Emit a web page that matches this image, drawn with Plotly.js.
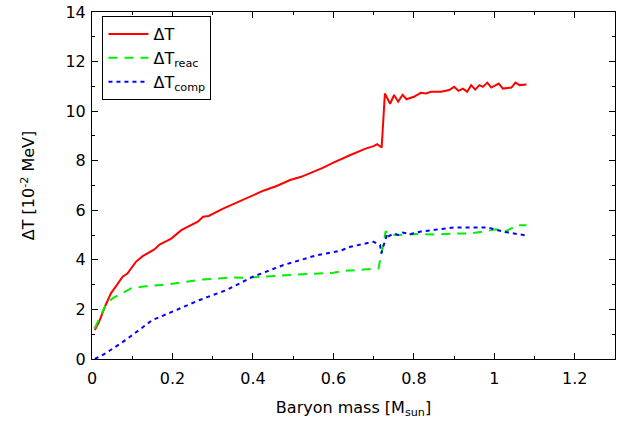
<!DOCTYPE html>
<html>
<head>
<meta charset="utf-8">
<script src="https://cdn.plot.ly/plotly-3.0.1.min.js"></script>
<style>html,body{margin:0;padding:0;background:#fff;}#chart{width:624px;height:422px;}</style>
</head>
<body>
<div id="chart"></div>
<script>
// ΔT (total)
const massT = [0.007,0.0175,0.034,0.047,0.059,0.076,0.088,0.109,0.126,0.155,0.168,0.197,0.222,0.2425,0.263,0.276,0.29,0.326,0.351,0.38,0.40,0.426,0.459,0.4925,0.52,0.55,0.575,0.6,0.6175,0.6425,0.68,0.70,0.709,0.72,0.728,0.741,0.751,0.761,0.772,0.782,0.80,0.8175,0.83,0.8425,0.8675,0.888,0.90,0.911,0.922,0.9325,0.9425,0.9525,0.963,0.9715,0.9825,0.9925,1.011,1.0215,1.0425,1.0525,1.063,1.08];
const dT = [1.17,1.5,2.18,2.65,2.92,3.32,3.45,3.92,4.15,4.42,4.62,4.86,5.2,5.36,5.54,5.74,5.77,6.07,6.25,6.44,6.61,6.79,6.98,7.22,7.35,7.55,7.72,7.92,8.06,8.23,8.49,8.59,8.67,8.53,10.71,10.3,10.65,10.38,10.66,10.48,10.58,10.74,10.71,10.78,10.78,10.85,10.98,10.82,10.91,10.78,11.05,10.87,11.05,10.98,11.15,10.95,11.11,10.91,10.95,11.15,11.05,11.07];
// ΔT_reac
const massReac = [0.007,0.034,0.051,0.097,0.134,0.1925,0.276,0.351,0.3825,0.4425,0.4925,0.60,0.622,0.676,0.712,0.723,0.73,0.738,0.759,0.809,0.851,0.897,0.938,0.98,1.005,1.026,1.059,1.08];
const dTreac = [1.24,2.18,2.45,2.85,2.94,3.02,3.21,3.29,3.28,3.35,3.39,3.48,3.55,3.61,3.65,4.53,5.16,5.02,5.0,5.04,5.02,5.06,5.06,5.16,5.23,5.14,5.4,5.4];
// ΔT_comp
const massComp = [0.007,0.034,0.084,0.15,0.20,0.2675,0.334,0.40,0.476,0.559,0.6175,0.6425,0.70,0.716,0.719,0.734,0.738,0.751,0.761,0.772,0.7925,0.8175,0.859,0.90,0.9425,0.984,1.0215,1.0675,1.08];
const dTcomp = [0.0,0.23,0.77,1.57,1.91,2.38,2.78,3.32,3.79,4.19,4.37,4.53,4.73,4.6,4.26,5.07,4.96,5.07,5.0,5.1,5.04,5.14,5.23,5.31,5.31,5.31,5.14,5.0,4.98];

const xTickVals = [0,0.2,0.4,0.6,0.8,1,1.2];
const xTickText = ['0','0.2','0.4','0.6','0.8','1','1.2'];
const yTickVals = [0,2,4,6,8,10,12,14];

const FONT = 'DejaVu Sans, Liberation Sans, Arial, sans-serif';

const traces = [
  {x: massT, y: dT, mode: 'lines', name: 'ΔT', line: {color: '#ff0000', width: 2}},
  {x: massReac, y: dTreac, mode: 'lines', name: 'ΔT<sub>reac</sub>', line: {color: '#00ee00', width: 2, dash: '9px,7px'}},
  {x: massComp, y: dTcomp, mode: 'lines', name: 'ΔT<sub>comp</sub>', line: {color: '#0000ff', width: 2, dash: '4px,4px'}}
];

const axisCommon = {
  showline: true, linecolor: '#000', linewidth: 1, mirror: 'ticks',
  ticks: 'inside', ticklen: 6, tickcolor: '#000', tickwidth: 1,
  showgrid: false, zeroline: false,
  tickfont: {family: FONT, size: 16, color: '#000'}
};

const layout = {
  width: 624, height: 422,
  margin: {l: 92, r: 9, t: 12, b: 63},
  paper_bgcolor: '#fff', plot_bgcolor: '#fff',
  font: {family: FONT, size: 16, color: '#000'},
  xaxis: Object.assign({}, axisCommon, {
    range: [0, 1.3], tickvals: xTickVals, ticktext: xTickText,
    ticklabelstandoff: 5,
    minor: {ticks: 'inside', dtick: 0.1, tick0: 0, ticklen: 3, tickcolor: '#000'},
    title: {text: 'Baryon mass [M<sub>sun</sub>]', font: {family: FONT, size: 16, color: '#000'}, standoff: 14}
  }),
  yaxis: Object.assign({}, axisCommon, {
    range: [0, 14], tickvals: yTickVals,
    ticklabelstandoff: 2,
    minor: {ticks: 'inside', dtick: 1, tick0: 0, ticklen: 3, tickcolor: '#000'},
    title: {text: 'ΔT [10<sup>-2</sup> MeV]', font: {family: FONT, size: 16, color: '#000'}, standoff: 26}
  }),
  showlegend: true,
  legend: {
    x: 0.02, y: 0.988, xanchor: 'left', yanchor: 'top',
    bgcolor: '#fff', bordercolor: '#000', borderwidth: 1,
    font: {family: FONT, size: 16, color: '#000'},
    tracegroupgap: 0, itemwidth: 40
  }
};

Plotly.newPlot('chart', traces, layout, {displayModeBar: false, staticPlot: true});
</script>
</body>
</html>
